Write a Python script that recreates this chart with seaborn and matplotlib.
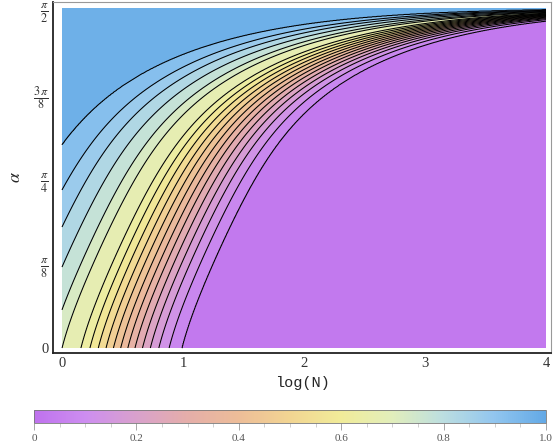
import numpy as np
import matplotlib
matplotlib.use('Agg')
from matplotlib import pyplot as plt
from matplotlib.ticker import MultipleLocator
import seaborn as sns
sns.set_style('white')
plt.rcParams['mathtext.fontset'] = 'stix'

### contour levels where they meet the alpha = 0 edge (log N of each line)
bottom_levels = [0.70, 0.65, 0.60, 0.55, 0.50, 0.45, 0.40, 0.35, 0.30, 0.25, 0.20, 0.15, 0.10, 0.05]
bottom_logn = [0.0, 0.157, 0.231, 0.30, 0.364, 0.425, 0.485, 0.544, 0.603, 0.665, 0.73, 0.80, 0.885, 0.99]

### contour levels where they meet the log N = 0 edge (alpha of each line)
left_levels = [0.75, 0.80, 0.85, 0.90, 0.95]
left_alpha = [0.176, 0.374, 0.559, 0.730, 0.938]

### how far the 0.05 line has moved to the right at each alpha
alpha_pts = [0.0, 0.176, 0.314, 0.453, 0.561, 0.684, 0.730, 0.869, 0.976, 1.069, 1.138,
             1.200, 1.254, 1.300, 1.331, 1.386, 1.438, 1.515]
shift_pts = [0.0, 0.096, 0.193, 0.303, 0.399, 0.523, 0.565, 0.703, 0.840, 0.978, 1.116,
             1.253, 1.390, 1.530, 1.666, 1.98, 2.35, 3.02]

### colours of the legend bar
bar_colors = ['#bf72ee', '#cd8ef0', '#d9a1cc', '#e5aea9', '#edbd98', '#f2d592',
              '#f1ec99', '#e2eebb', '#bcdee0', '#92c6ef', '#63a9e6']

### build the field from the readings
# shifts are smoothed on top of -log10(1 - sin(alpha)) so the lines come out as clean curves
def base(a):
    return -np.log10(np.clip(1 - np.sin(a), 1e-12, None))

a_pts = np.array(alpha_pts)
resid = np.array(shift_pts) - base(a_pts)
powers = np.arange(1, 5)
coef = np.linalg.lstsq(a_pts[:, None] ** powers, resid, rcond=None)[0]
def shift(a):
    a = np.asarray(a, dtype=float)
    return base(a) + (a[..., None] ** powers) @ coef

u_left = -shift(left_alpha)
u_table = np.concatenate([[-8.0], u_left[::-1], bottom_logn, [2.5]])
f_table = np.concatenate([[1.0], left_levels[::-1], bottom_levels, [0.0]])

logn = np.linspace(0, 4, 801)
alpha = np.linspace(0, np.pi / 2, 901)
X, A = np.meshgrid(logn, alpha)
F = np.interp(X - shift(A), u_table, f_table)

cmap = sns.blend_palette(bar_colors, as_cmap=True)
norm = matplotlib.colors.Normalize(0, 1)
levels = np.arange(0, 1.0001, 0.05)

### plot
fig = plt.figure(figsize=(5.55, 4.48), dpi=100)
ax = fig.add_axes([53 / 555, 1 - 353 / 448, 498 / 555, 351 / 448])
ax.contourf(X, A, F, levels=levels, cmap=cmap, norm=norm)
ax.contour(X, A, F, levels=levels[1:-1], colors='black', linewidths=0.75)

ax.set_xlim(-9 / 121, 4 + 5 / 121)
ax.set_ylim(-5 / 216.5, np.pi / 2 + 6 / 216.5)
ax.set_xticks([0, 1, 2, 3, 4])
ax.set_xticklabels(['0', '1', '2', '3', '4'], family='Liberation Serif', fontsize=10.5)
ax.set_yticks([0, np.pi / 8, np.pi / 4, 3 * np.pi / 8, np.pi / 2])
ax.set_yticklabels(['0', r'$\frac{\pi}{8}$', r'$\frac{\pi}{4}$', r'$\frac{3\,\pi}{8}$', r'$\frac{\pi}{2}$'],
                   fontsize=12.5)
ax.get_yticklabels()[0].set_family('Liberation Serif')
ax.get_yticklabels()[0].set_fontsize(10.5)
ax.tick_params(direction='in', length=4, width=0.8, colors='#333333', pad=3)
ax.set_xlabel('log(N)', family='Liberation Mono', fontsize=11, labelpad=4)
ax.set_ylabel(r'$\alpha$', fontsize=13, labelpad=6)
for side in ['left', 'bottom']:
    ax.spines[side].set_color('#222222')
    ax.spines[side].set_linewidth(1.3)
for side in ['top', 'right']:
    ax.spines[side].set_color('#999999')
    ax.spines[side].set_linewidth(0.8)

### colour bar
cax = fig.add_axes([34 / 555, 1 - 423 / 448, 512 / 555, 13 / 448])
sm = matplotlib.cm.ScalarMappable(norm=norm, cmap=cmap)
cb = fig.colorbar(sm, cax=cax, orientation='horizontal')
cb.outline.set_edgecolor('#777777')
cb.outline.set_linewidth(0.6)
cb.set_ticks([0, 0.2, 0.4, 0.6, 0.8, 1.0])
cb.set_ticklabels(['0', '0.2', '0.4', '0.6', '0.8', '1.0'])
cax.xaxis.set_minor_locator(MultipleLocator(0.05))
cax.tick_params(which='major', length=5, width=0.6, colors='#999999', labelcolor='#555555',
                labelsize=8, pad=3)
cax.tick_params(which='minor', length=3, width=0.5, colors='#bbbbbb')
for t in cax.get_xticklabels():
    t.set_family('Liberation Serif')

plt.savefig('out.png', dpi=100)
